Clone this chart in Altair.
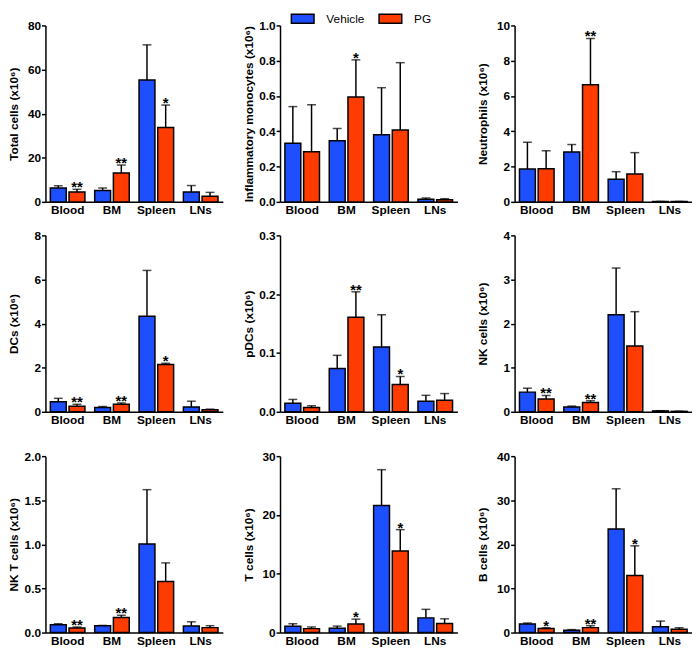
import altair as alt
import pandas as pd

sites = ["Blood", "BM", "Spleen", "LNs"]
groups = ["Vehicle", "PG"]
colors = ["#1E4FFF", "#FF3C00"]

titles = [
    "Total cells (x10⁶)", "Inflammatory monocytes (x10⁶)", "Neutrophils (x10⁶)",
    "DCs (x10⁶)", "pDCs (x10⁶)", "NK cells (x10⁶)",
    "NK T cells (x10⁶)", "T cells (x10⁶)", "B cells (x10⁶)",
]
y_max = [80, 1.0, 10, 8, 0.3, 4, 2.0, 30, 40]
y_ticks = [
    [0, 20, 40, 60, 80], [0, 0.2, 0.4, 0.6, 0.8, 1.0], [0, 2, 4, 6, 8, 10],
    [0, 2, 4, 6, 8], [0, 0.1, 0.2, 0.3], [0, 1, 2, 3, 4],
    [0, 0.5, 1.0, 1.5, 2.0], [0, 10, 20, 30], [0, 10, 20, 30, 40],
]
y_fmt = ["d", ".1f", "d", "d", ".1f", "d", ".1f", "d", "d"]

vehicle_mean = [
    [6.3, 5.2, 55.3, 4.5], [0.332, 0.347, 0.380, 0.015], [1.86, 2.83, 1.28, 0.02],
    [0.46, 0.19, 4.33, 0.22], [0.0145, 0.0736, 0.110, 0.018], [0.446, 0.11, 2.20, 0.02],
    [0.089, 0.078, 1.004, 0.074], [1.06, 0.72, 21.6, 2.5], [1.94, 0.52, 23.5, 1.34],
]
vehicle_sem = [
    [1.0, 1.1, 15.9, 2.9], [0.208, 0.069, 0.267, 0.007], [1.52, 0.42, 0.43, 0.005],
    [0.15, 0.05, 2.08, 0.26], [0.0065, 0.0224, 0.055, 0.010], [0.089, 0.02, 1.06, 0.005],
    [0.011, 0.003, 0.616, 0.048], [0.44, 0.38, 6.1, 1.45], [0.22, 0.15, 9.1, 1.26],
]
pg_mean = [
    [4.5, 13.1, 33.7, 2.5], [0.284, 0.594, 0.408, 0.012], [1.88, 6.64, 1.58, 0.02],
    [0.25, 0.34, 2.14, 0.09], [0.0072, 0.1606, 0.0463, 0.0195], [0.29, 0.21, 1.49, 0.01],
    [0.052, 0.170, 0.58, 0.056], [0.67, 1.45, 13.86, 1.56], [0.9, 1.12, 12.96, 0.74],
]
pg_sem = [
    [1.2, 3.6, 10.2, 1.8], [0.267, 0.211, 0.381, 0.006], [1.02, 2.62, 1.21, 0.005],
    [0.09, 0.06, 0.06, 0.03], [0.003, 0.0434, 0.0137, 0.0115], [0.08, 0.04, 0.78, 0.003],
    [0.011, 0.026, 0.21, 0.022], [0.28, 0.83, 3.64, 0.78], [0.2, 0.44, 6.7, 0.36],
]
pg_stars = [
    ["**", "**", "*", ""], ["", "*", "", ""], ["", "**", "", ""],
    ["**", "**", "*", ""], ["", "**", "*", ""], ["**", "**", "", ""],
    ["**", "**", "", ""], ["", "*", "*", ""], ["*", "**", "*", ""],
]

FONT = "Liberation Sans"

legend = alt.Legend(
    orient="none", legendX=255, legendY=-13, direction="horizontal", title=None,
    symbolType="M-2.3,-0.9H2.3V0.9H-2.3Z",
    symbolStrokeColor="black", symbolStrokeWidth=1.5,
    labelFont=FONT, labelFontSize=12, labelFontWeight="normal", labelColor="black",
    labelOffset=18, columnPadding=11, padding=0, offset=0, titlePadding=0,
    rowPadding=0,
)


def panel(i):
    rows = []
    for j, s in enumerate(sites):
        rows.append({"site": s, "group": "Vehicle", "mean": vehicle_mean[i][j],
                     "hi": vehicle_mean[i][j] + vehicle_sem[i][j], "star": ""})
        rows.append({"site": s, "group": "PG", "mean": pg_mean[i][j],
                     "hi": pg_mean[i][j] + pg_sem[i][j], "star": pg_stars[i][j]})
    df = pd.DataFrame(rows)
    base = alt.Chart(df)
    x = alt.X("site:N", sort=sites,
              scale=alt.Scale(paddingInner=0.22, paddingOuter=0.11),
              axis=alt.Axis(title=None, labelAngle=0, ticks=False))
    xo = alt.XOffset("group:N", sort=groups, scale=alt.Scale(paddingInner=0.15))
    yscale = alt.Scale(domain=[0, y_max[i]], nice=False, zero=True)
    yaxis = alt.Axis(title=titles[i], values=y_ticks[i], format=y_fmt[i],
                     labelOverlap=False)
    bars = base.mark_bar(stroke="black", strokeWidth=1.5).encode(
        x=x, xOffset=xo, y=alt.Y("mean:Q", scale=yscale, axis=yaxis),
        color=alt.Color("group:N", scale=alt.Scale(domain=groups, range=colors),
                        legend=legend),
    )
    rules = base.mark_rule(color="black", strokeWidth=1.5).encode(
        x=x, xOffset=xo, y=alt.Y("mean:Q", scale=yscale, axis=yaxis), y2="hi:Q")
    caps = base.mark_tick(color="black", thickness=1.5, size=9).encode(
        x=x, xOffset=xo, y=alt.Y("hi:Q", scale=yscale, axis=yaxis))
    stars = base.mark_text(font=FONT, fontWeight="bold", fontSize=15,
                           baseline="alphabetic", dy=3, color="black").encode(
        x=x, xOffset=xo, y=alt.Y("hi:Q", scale=yscale, axis=yaxis), text="star:N")
    return alt.layer(bars, rules, caps, stars).properties(width=180, height=179)


row1 = alt.hconcat(panel(0), panel(1), panel(2), spacing=20)
row2 = alt.hconcat(panel(3), panel(4), panel(5), spacing=20)
row3 = alt.hconcat(panel(6), panel(7), panel(8), spacing=20)

chart = alt.vconcat(alt.vconcat(row1, row2, spacing=14), row3, spacing=25).properties(
    padding={"left": 0, "top": 0, "right": 0, "bottom": 0}
).configure_view(stroke=None).configure_axis(
    grid=False, domainColor="black", domainWidth=1.5, tickColor="black", tickWidth=1.5,
    labelFont=FONT, labelFontWeight="bold", labelFontSize=12, labelColor="black",
    titleFont=FONT, titleFontWeight="bold", titleFontSize=12, titleColor="black",
).configure_axisX(labelPadding=3).configure_axisY(
    tickSize=4, labelPadding=1, minExtent=21, maxExtent=21, titlePadding=4,
    labelOverlap=False,
)

chart.save("out.html", embed_options={"renderer": "svg", "actions": False})
